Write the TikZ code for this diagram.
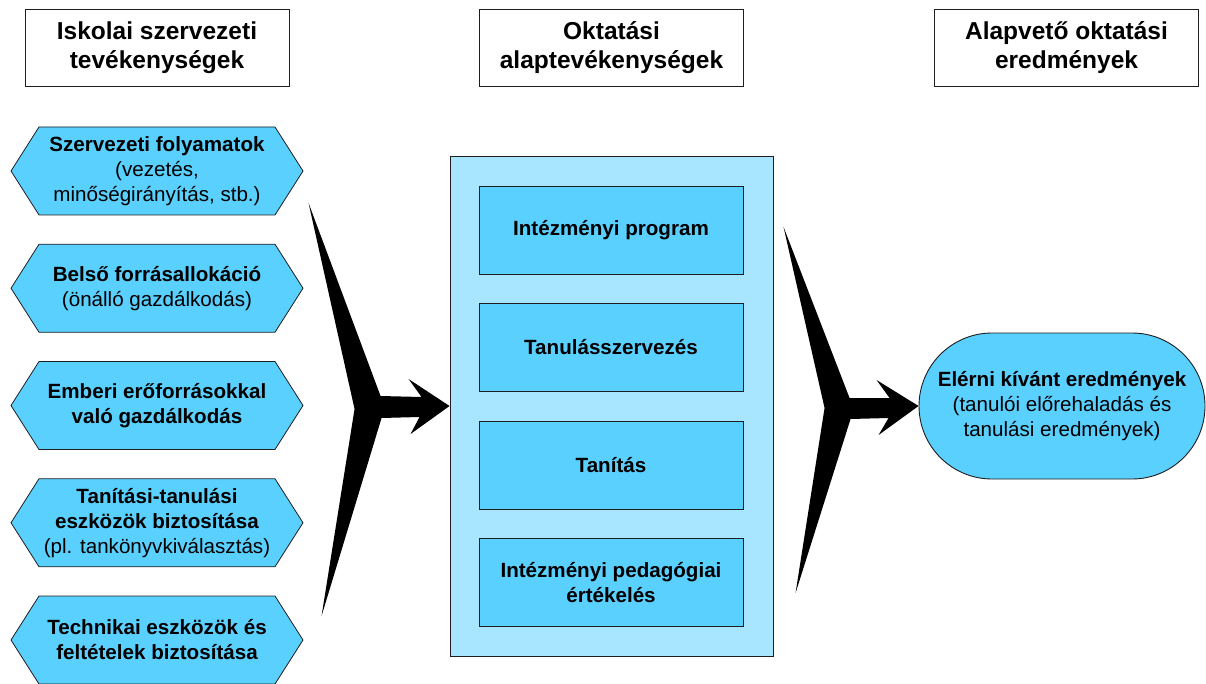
\documentclass[tikz,border=0pt]{standalone}
\usepackage{fontspec}
\setmainfont{Liberation Sans}
\usetikzlibrary{calc}

\definecolor{boxblue}{RGB}{90,208,255}
\definecolor{paleblue}{RGB}{168,230,255}
\definecolor{edge}{RGB}{30,30,30}

\tikzset{
  head/.style={draw=edge, line width=0.9pt, fill=white, minimum width=264, minimum height=77,
    align=center, font=\fontsize{24.5}{29}\selectfont\bfseries},
  hexline/.style={draw=edge, line width=0.8pt, fill=boxblue},
  hextext/.style={align=center, font=\fontsize{20.6}{25}\selectfont},
  corebox/.style={draw=edge, line width=0.9pt, fill=paleblue, minimum width=323, minimum height=500},
  stepbox/.style={draw=edge, line width=0.9pt, fill=boxblue, minimum width=264, minimum height=88,
    align=center, font=\fontsize{20.6}{25}\selectfont\bfseries},
  goal/.style={draw=edge, line width=0.9pt, fill=boxblue, minimum width=286, minimum height=146,
    rounded corners=73, align=center, font=\fontsize{20.6}{25}\selectfont},
  fork/.style={fill=black},
}

% hexagonal frame centred at height #1 of the left column
\newcommand{\hexframe}[1]{%
  \draw[hexline] (11,#1) -- ++(28,-44) -- ++(236,0) -- ++(28,44) -- ++(-28,44) -- ++(-236,0) -- cycle;}

\begin{document}
\begin{tikzpicture}[x=1pt, y=-1pt]
\useasboundingbox (0,0) rectangle (1206,684);

% column headings
\node[head] (hleft)  at (157,47.5)    {Iskolai szervezeti\\tevékenységek};
\node[head] (hmid)   at (611.5,47.5)  {Oktatási\\alaptevékenységek};
\node[head] (hright) at (1066.5,47.5) {Alapvető oktatási\\eredmények};

% school-organisation activities
\hexframe{171}
\node[hextext] (s1) at (157,171) {\textbf{Szervezeti folyamatok}\\(vezetés,\\minőségirányítás, stb.)};
\hexframe{288.25}
\node[hextext] (s2) at (157,288.25) {\textbf{Belső forrásallokáció}\\(önálló gazdálkodás)};
\hexframe{405.5}
\node[hextext,font=\fontsize{20.6}{25}\selectfont\bfseries] (s3) at (157,405.5) {Emberi erőforrásokkal\\való gazdálkodás};
\hexframe{522.75}
\node[hextext] (s4) at (157,522.75) {\textbf{Tanítási-tanulási}\\\textbf{eszközök biztosítása}\\(pl. tankönyvkiválasztás)};
\hexframe{640}
\node[hextext,font=\fontsize{20.6}{25}\selectfont\bfseries] (s5) at (157,640) {Technikai eszközök és\\feltételek biztosítása};

% core educational activities
\node[corebox] (core) at (611.5,406) {};
\node[stepbox] (c1) at (611,230)   {Intézményi program};
\node[stepbox] (c2) at (611,347.5) {Tanulásszervezés};
\node[stepbox] (c3) at (611,465)   {Tanítás};
\node[stepbox] (c4) at (611,582.5) {Intézményi pedagógiai\\értékelés};

% outcome
\node[goal] (out) at (1062,406) {\textbf{Elérni kívánt eredmények}\\(tanulói előrehaladás és\\tanulási eredmények)};

% converging arrow into the core activities
\begin{scope}[shift={(core.west)}]
  \fill[fork] (0,0) -- (-39,28) -- (-30,11) -- (-68,12) -- (-128,210) -- (-95,3)
    -- (-141,-203) -- (-69,-10) -- (-28,-9) -- (-41,-27) -- cycle;
\end{scope}

% converging arrow into the outcome
\begin{scope}[shift={(out.west)}]
  \fill[fork] (0,0) -- (-40,29) -- (-30,12) -- (-68,13) -- (-123,187) -- (-94,2)
    -- (-135,-179) -- (-69,-8) -- (-29,-8) -- (-42,-26) -- cycle;
\end{scope}
\end{tikzpicture}
\end{document}
